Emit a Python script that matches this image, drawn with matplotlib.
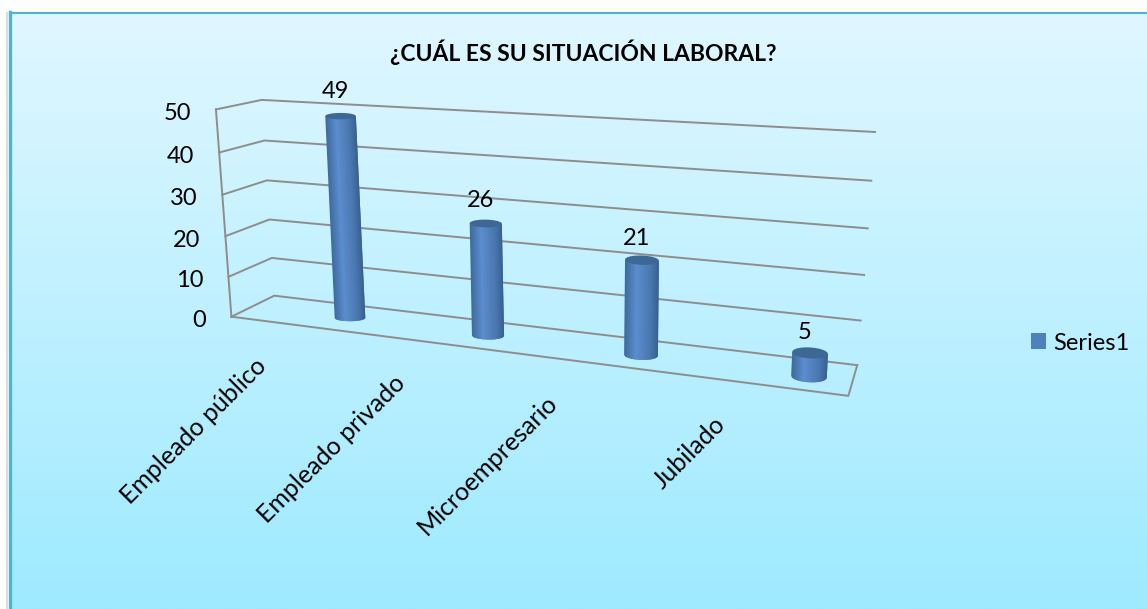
from matplotlib import pyplot as plt
from matplotlib.collections import PolyCollection
from matplotlib.patches import Patch, Polygon
import numpy as np

categories = ["Empleado público", "Empleado privado", "Microempresario", "Jubilado"]
values = [49, 26, 21, 5]
ticks = [0, 10, 20, 30, 40, 50]
title = "¿CUÁL ES SU SITUACIÓN LABORAL?"
series_name = "Series1"

FONT = "Lato"
GRID = "#8f8d8b"
VMAX = 50.0

# box corners as excel drew them: (u along categories, v value, d depth) -> pixel
box_3d = [(0, 0, 0), (0, 1, 0), (0, 0, 1), (0, 1, 1), (1, 0, 1), (1, 1, 1), (1, 0, 0)]
box_px = [(231.7, 316.7), (215.7, 109.3), (274, 295.7), (262, 100),
          (857.3, 365), (875, 132), (848.3, 396)]


def fit_camera(pts3, pts2):
    rows = []
    for (x, y, z), (px, py) in zip(pts3, pts2):
        rows.append([x, y, z, 1, 0, 0, 0, 0, -px * x, -px * y, -px * z, -px])
        rows.append([0, 0, 0, 0, x, y, z, 1, -py * x, -py * y, -py * z, -py])
    return np.linalg.svd(np.array(rows, float))[2][-1].reshape(3, 4)


camera = fit_camera(box_3d, box_px)


def project(u, value, d):
    p = camera @ np.array([u, value / VMAX, d, 1.0])
    return p[0] / p[2], p[1] / p[2]


# the bars sit on a perspective scale of their own
def bar_x(i):
    return 350 + 138 * i + 7.5 * i * (i - 1)


def bar_base(x):
    return 318 + 0.128 * (x - 350)


def px_per_unit(x):
    return 4.12 + 0.0014 * (x - 350)


def draw_bar(ax, i, value):
    x0 = bar_x(i)
    y0 = bar_base(x0)
    height = value * px_per_unit(x0)
    x1 = x0 + height * (x0 - 590) * 0.000195
    y1 = y0 - height
    r = 15.3 + 0.0055 * (x0 - 350)
    e = 3.2 + 0.005 * (x0 - 350)
    shear = (x0 - 350) * 0.00012

    stops = [-1, -0.3, 0.5, 1]
    reds = [0x3d, 0x5c, 0x4a, 0x37]
    greens = [0x6a, 0x8d, 0x78, 0x60]
    blues = [0x9e, 0xcd, 0xb2, 0x8f]
    edges = np.linspace(-1, 1, 33)
    polys = []
    colors = []
    # strips overlap the next one so no seams show between them
    for k, a in enumerate(edges[:-1]):
        mid = (a + edges[k + 1]) / 2
        b = edges[min(k + 2, len(edges) - 1)]
        low_a = y0 + e * np.sqrt(max(1 - a * a, 0)) + shear * r * a
        low_m = y0 + e * np.sqrt(max(1 - mid * mid, 0)) + shear * r * mid
        low_b = y0 + e * np.sqrt(max(1 - b * b, 0)) + shear * r * b
        polys.append([(x0 + r * a, low_a), (x0 + r * mid, low_m), (x0 + r * b, low_b),
                      (x1 + r * b, y1 + shear * r * b), (x1 + r * a, y1 + shear * r * a)])
        colors.append((np.interp(mid, stops, reds) / 255, np.interp(mid, stops, greens) / 255,
                       np.interp(mid, stops, blues) / 255))
    ax.add_collection(PolyCollection(polys, facecolors=colors, edgecolors="none", zorder=4))
    t = np.linspace(0, 2 * np.pi, 60)
    cap = np.column_stack([x1 + r * np.cos(t), y1 + e * np.sin(t) + shear * r * np.cos(t)])
    ax.add_patch(Polygon(cap, closed=True, facecolor="#3d6896", edgecolor="none", zorder=5))
    ax.text(x1 - 5, y1 - 24.5 + (x0 - 350) * 0.008, str(value), ha="center", va="center",
            fontsize=17, family=FONT, color="#000000", zorder=6)


fig = plt.figure(figsize=(11.47, 6.09), dpi=100)
ax = fig.add_axes([0, 0, 1, 1])
ax.set_xlim(0, 1147)
ax.set_ylim(609, 0)
ax.axis("off")

# background gradient and frame
shade = np.linspace(0, 1, 256).reshape(-1, 1, 1)
top_col = np.array([0xe0, 0xf7, 0xff]) / 255
bot_col = np.array([0x9e, 0xea, 0xff]) / 255
ax.imshow(top_col + (bot_col - top_col) * shade, extent=(10, 1147, 609, 12), aspect="auto", zorder=0)
ax.set_xlim(0, 1147)
ax.set_ylim(609, 0)
ax.plot([7.2, 7.2], [13, 609], color="#dddddd", lw=1.5, zorder=1)
ax.plot([9.7, 9.7], [609, 12], color="#4cb6d2", lw=2.4, zorder=2)
ax.plot([9.7, 1147], [12.7, 12.7], color="#4cb6d2", lw=1.5, zorder=2)

# walls and floor
for v in ticks:
    xs = [project(0, v, 0)[0], project(0, v, 1)[0], project(1, v, 1)[0]]
    ys = [project(0, v, 0)[1], project(0, v, 1)[1], project(1, v, 1)[1]]
    ax.plot(xs, ys, color=GRID, lw=1.4, zorder=3)
    ax.text(xs[0] - 25, ys[0] + 4, str(v), ha="right", va="center", fontsize=17,
            family=FONT, color="#000000")
left_low = project(0, 0, 0)
left_top = project(0, VMAX, 0)
ax.plot([left_low[0], left_top[0]], [left_low[1], left_top[1]], color=GRID, lw=1.4, zorder=3)
corner_a = project(1, 0, 0)
corner_b = project(1, 0, 1)
ax.plot([left_low[0], corner_a[0], corner_b[0]], [left_low[1], corner_a[1], corner_b[1]],
        color=GRID, lw=1.4, zorder=3)

for i in range(len(values)):
    draw_bar(ax, i, values[i])
    x = bar_x(i)
    ax.text(x - 87, bar_base(x) + 44, categories[i], rotation=45, rotation_mode="anchor",
            ha="right", va="center", fontsize=18, family=FONT, color="#000000")

ax.text(583.5, 52.5, title, ha="center", va="center", fontsize=16.5, fontweight="bold",
        family=FONT, color="#000000")

ax.legend(handles=[Patch(facecolor="#4f81bd", edgecolor="none", label=series_name)],
          loc="center left", bbox_to_anchor=(1031, 343), bbox_transform=ax.transData,
          frameon=False, borderpad=0, borderaxespad=0, handlelength=0.64, handleheight=0.64,
          handletextpad=0.3, prop={"family": FONT, "size": 17})

fig.savefig("out.png", dpi=100)
